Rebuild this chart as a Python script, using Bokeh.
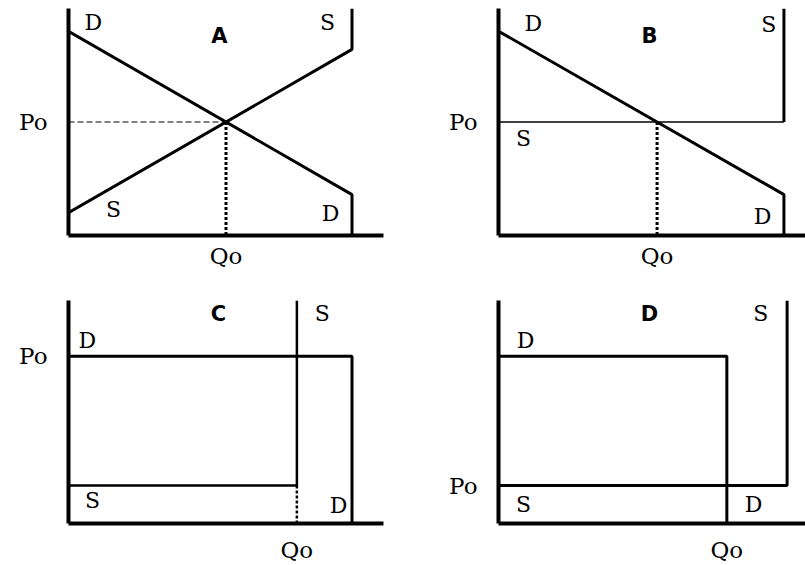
from bokeh.plotting import figure
from bokeh.layouts import gridplot
from bokeh.models import Range1d, FixedTicker
from bokeh.core.properties import value
from bokeh.embed import file_html
from bokeh.resources import INLINE

# ---------------- data (quantity Q, price P) ----------------
# Panel A
a_dem_q = [0, 9, 9]
a_dem_p = [9, 1.8, 0]
a_sup_q = [0, 9, 9]
a_sup_p = [1, 8.2, 10]
a_qo, a_po = 5, 5

# Panel B
b_dem_q = [0, 9, 9]
b_dem_p = [9, 1.8, 0]
b_sup_q = [0, 9, 9]
b_sup_p = [5, 5, 10]
b_qo, b_po = 5, 5

# Panel C
c_dem_q = [0, 9, 9]
c_dem_p = [7.5, 7.5, 0]
c_sup_q = [0, 7.25, 7.25]
c_sup_p = [1.7, 1.7, 10]
c_qo, c_po = 7.25, 7.5

# Panel D
d_dem_q = [0, 7.2, 7.2]
d_dem_p = [7.5, 7.5, 0]
d_sup_q = [0, 9.1, 9.1]
d_sup_p = [1.7, 1.7, 10]
d_qo, d_po = 7.2, 1.7

titles = ["A", "B", "C", "D"]
curve_labels = ["D", "S", "S", "D"]
a_lab_q = [0.79, 8.22, 1.43, 8.32]
a_lab_p = [9.38, 9.38, 1.15, 0.97]
b_lab_q = [1.10, 8.52, 0.79, 8.33]
b_lab_p = [9.34, 9.30, 4.27, 0.84]
c_lab_q = [0.60, 8.06, 0.76, 8.57]
c_lab_p = [8.22, 9.42, 1.02, 0.80]
d_lab_q = [0.85, 8.27, 0.79, 8.04]
d_lab_p = [8.22, 9.42, 0.84, 0.84]
title_q = [4.79, 4.76, 4.76, 4.76]
title_p = [8.81, 8.77, 9.38, 9.38]

SERIF = "DejaVu Serif"
SANS = "DejaVu Sans"


def make_panel(width, height, xmax, borders, qo, po, q_std):
    left, right, top, bottom = borders
    p = figure(width=width, height=height, output_backend="svg",
               toolbar_location=None, tools="",
               x_range=Range1d(0, xmax), y_range=Range1d(0, 10),
               min_border_left=left, min_border_right=right,
               min_border_top=top, min_border_bottom=bottom)
    p.outline_line_color = None
    p.grid.visible = False
    p.background_fill_color = "white"
    p.border_fill_color = "white"
    for ax, tick, lab, std in ((p.xaxis, qo, "Qo", q_std), (p.yaxis, po, "Po", 15)):
        ax.ticker = FixedTicker(ticks=[tick])
        ax.major_label_overrides = {tick: lab}
        ax.axis_line_width = 4
        ax.axis_line_color = "black"
        ax.major_tick_line_color = None
        ax.minor_tick_line_color = None
        ax.major_label_text_font = SERIF
        ax.major_label_text_font_size = "23px"
        ax.major_label_text_color = "black"
        ax.major_label_standoff = std
    return p


def add_labels(p, title, tq, tp, lq, lp):
    p.text(x=lq, y=lp, text=curve_labels, text_font=value(SERIF),
           text_font_size="22px", text_align="center",
           text_baseline="middle", text_color="black")
    p.text(x=[tq], y=[tp], text=[title], text_font=value(SANS),
           text_font_size="21px", text_font_style="bold",
           text_align="center", text_baseline="middle", text_color="black")


# Panel A
pa = make_panel(400, 280, 10, (68, 17, 8, 45), a_qo, a_po, 1)
pa.line(a_dem_q, a_dem_p, line_width=3, color="black")
pa.line(a_sup_q, a_sup_p, line_width=3, color="black")
pa.line([0, a_qo], [a_po, a_po], line_width=1.2, color="black", line_dash="6 3")
pa.line([a_qo, a_qo], [a_po, 0], line_width=3, color="black", line_dash="3 2")
add_labels(pa, titles[0], title_q[0], title_p[0], a_lab_q, a_lab_p)

# Panel B
pb = make_panel(405, 280, 9.68, (98, 0, 8, 45), b_qo, b_po, 1)
pb.line(b_dem_q, b_dem_p, line_width=3, color="black")
pb.line(b_sup_q[:2], b_sup_p[:2], line_width=1.3, color="black")
pb.line(b_sup_q[1:], b_sup_p[1:], line_width=3, color="black")
pb.line([b_qo, b_qo], [b_po, 0], line_width=3, color="black", line_dash="3 2")
add_labels(pb, titles[1], title_q[1], title_p[1], b_lab_q, b_lab_p)

# Panel C
pc = make_panel(400, 285, 10, (68, 17, 20, 40), c_qo, c_po, 7)
pc.line(c_dem_q, c_dem_p, line_width=3, color="black")
pc.line(c_sup_q, c_sup_p, line_width=2.5, color="black")
pc.line([c_qo, c_qo], [c_sup_p[1], 0], line_width=2.5, color="black", line_dash="3 2")
add_labels(pc, titles[2], title_q[2], title_p[2], c_lab_q, c_lab_p)

# Panel D
pd_ = make_panel(405, 285, 9.68, (98, 0, 20, 40), d_qo, d_po, 7)
pd_.line(d_dem_q, d_dem_p, line_width=3, color="black")
pd_.line(d_sup_q, d_sup_p, line_width=3, color="black")
add_labels(pd_, titles[3], title_q[3], title_p[3], d_lab_q, d_lab_p)

grid = gridplot([[pa, pb], [pc, pd_]], toolbar_location=None)

open("out.html", "w").write(file_html(grid, INLINE))
